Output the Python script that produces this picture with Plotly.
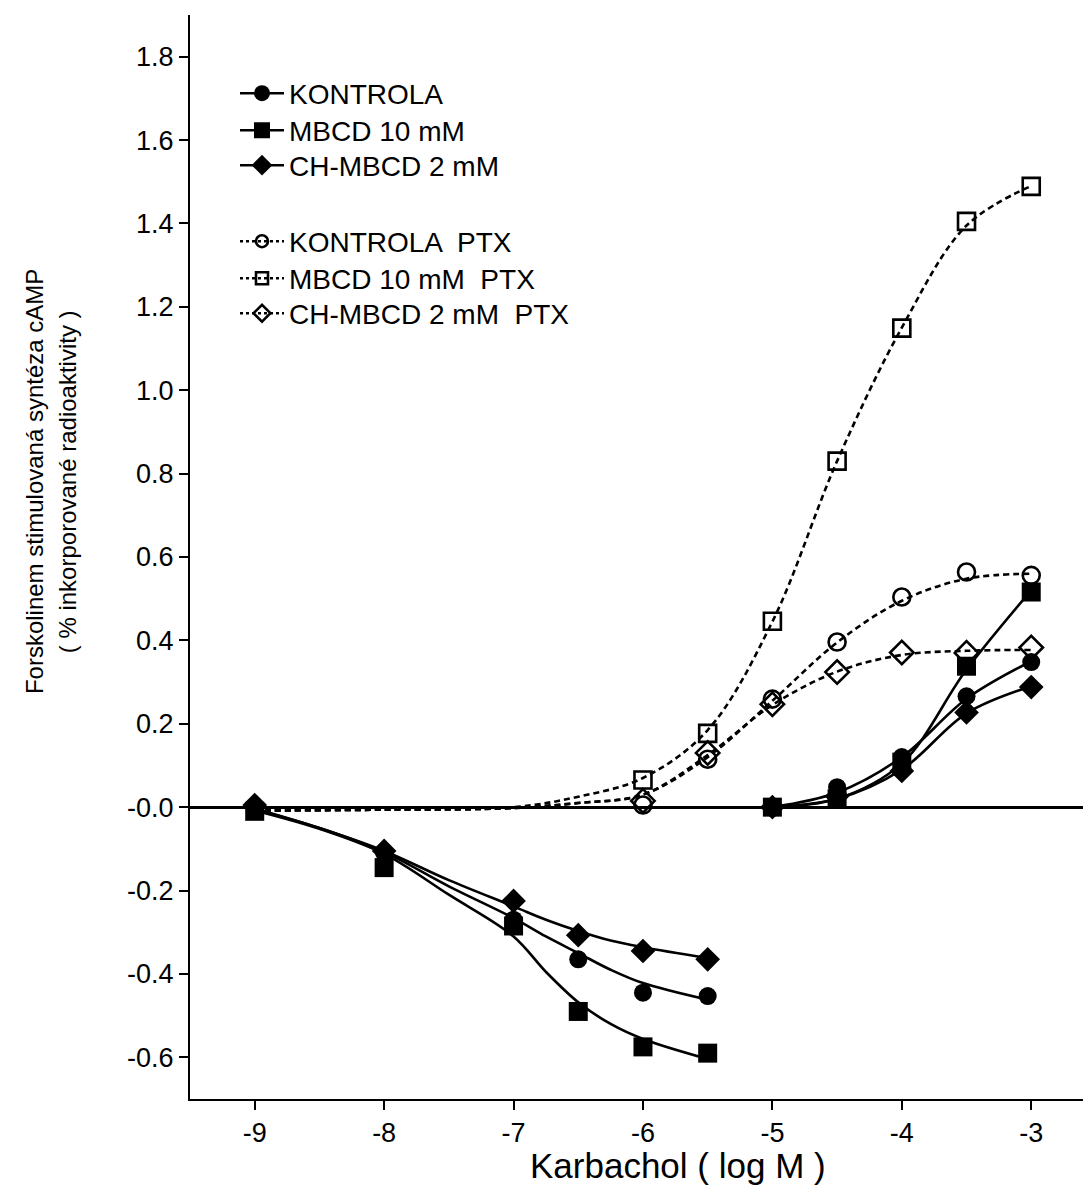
import plotly.graph_objects as go

# ---- data ----
# Karbachol concentration (log M)
x_neg = [-9, -8, -7, -6.5, -6, -5.5]
x_pos = [-5, -4.5, -4, -3.5, -3]
x_ptx = [-6, -5.5, -5, -4.5, -4, -3.5, -3]

# measured points (no PTX)
kontrola_neg = [-0.005, -0.11, -0.27, -0.365, -0.445, -0.453]
mbcd_neg = [-0.01, -0.145, -0.285, -0.49, -0.575, -0.59]
chmbcd_neg = [0.005, -0.105, -0.225, -0.307, -0.345, -0.365]

kontrola_pos = [0.0, 0.048, 0.12, 0.266, 0.348]
mbcd_pos = [0.0, 0.02, 0.108, 0.338, 0.516]
chmbcd_pos = [0.0, 0.026, 0.087, 0.227, 0.288]

# measured points (PTX)
kontrola_ptx = [0.005, 0.115, 0.259, 0.396, 0.504, 0.564, 0.556]
mbcd_ptx = [0.065, 0.177, 0.446, 0.83, 1.149, 1.405, 1.489]
chmbcd_ptx = [0.015, 0.13, 0.247, 0.324, 0.371, 0.37, 0.383]

# fitted curves
cx_neg = [-9, -8.5, -8, -7.5, -7, -6.75, -6.5, -6.25, -6, -5.5]
c_kontrola_neg = [-0.005, -0.05, -0.108, -0.19, -0.266, -0.31, -0.35, -0.39, -0.422, -0.462]
c_mbcd_neg = [-0.008, -0.052, -0.112, -0.21, -0.31, -0.395, -0.468, -0.52, -0.556, -0.604]
c_chmbcd_neg = [-0.003, -0.05, -0.105, -0.175, -0.238, -0.27, -0.297, -0.32, -0.336, -0.362]

cx_pos = [-5, -4.5, -4, -3.5, -3]
c_kontrola_pos = [0.0, 0.035, 0.12, 0.26, 0.35]
c_mbcd_pos = [0.0, 0.02, 0.105, 0.33, 0.52]
c_chmbcd_pos = [0.0, 0.02, 0.09, 0.225, 0.29]

cx_ptx = [-9, -8, -7, -6.5, -6, -5.5, -5, -4.5, -4, -3.5, -3]
c_kontrola_ptx = [-0.008, -0.006, -0.002, 0.01, 0.03, 0.12, 0.255, 0.395, 0.495, 0.548, 0.56]
c_mbcd_ptx = [-0.008, -0.006, 0.0, 0.025, 0.07, 0.185, 0.445, 0.83, 1.15, 1.395, 1.49]
c_chmbcd_ptx = [-0.008, -0.006, -0.002, 0.01, 0.03, 0.125, 0.245, 0.325, 0.365, 0.375, 0.377]

names = ["KONTROLA", "MBCD 10 mM", "CH-MBCD 2 mM",
         "KONTROLA  PTX", "MBCD 10 mM  PTX", "CH-MBCD 2 mM  PTX"]

y_tickvals = [-0.6, -0.4, -0.2, 0.0, 0.2, 0.4, 0.6, 0.8, 1.0, 1.2, 1.4, 1.6, 1.8]
y_ticktext = ["-0.6", "-0.4", "-0.2", "-0.0", "0.2", "0.4", "0.6", "0.8",
              "1.0", "1.2", "1.4", "1.6", "1.8"]
x_tickvals = [-9, -8, -7, -6, -5, -4, -3]
x_ticktext = ["-9", "-8", "-7", "-6", "-5", "-4", "-3"]

FONT = "Liberation Sans, Arial, sans-serif"
BLACK = "#000000"
SOLID_W = 2.6
DASH = "6px,4px"

fig = go.Figure()

solid_curves = [
    (cx_neg, c_kontrola_neg), (cx_neg, c_mbcd_neg), (cx_neg, c_chmbcd_neg),
    (cx_pos, c_kontrola_pos), (cx_pos, c_mbcd_pos), (cx_pos, c_chmbcd_pos),
]
for cx, cy in solid_curves:
    fig.add_trace(go.Scatter(x=cx, y=cy, mode="lines", showlegend=False,
                             hoverinfo="skip",
                             line=dict(color=BLACK, width=SOLID_W, shape="spline")))

for cy in [c_kontrola_ptx, c_mbcd_ptx, c_chmbcd_ptx]:
    fig.add_trace(go.Scatter(x=cx_ptx, y=cy, mode="lines", showlegend=False,
                             hoverinfo="skip",
                             line=dict(color=BLACK, width=2.6, dash=DASH, shape="spline")))

# markers
filled = [
    ("circle", 18, kontrola_neg, kontrola_pos),
    ("square", 19, mbcd_neg, mbcd_pos),
    ("diamond", 19, chmbcd_neg, chmbcd_pos),
]
for sym, size, yn, yp in filled:
    for xs, ys in [(x_neg, yn), (x_pos, yp)]:
        fig.add_trace(go.Scatter(x=xs, y=ys, mode="markers", showlegend=False,
                                 marker=dict(symbol=sym, size=size, color=BLACK,
                                             line=dict(width=0))))

opened = [
    ("circle-open", 17, kontrola_ptx),
    ("square-open", 17, mbcd_ptx),
    ("diamond-open", 18, chmbcd_ptx),
]
for sym, size, ys in opened:
    fig.add_trace(go.Scatter(x=x_ptx, y=ys, mode="markers", showlegend=False,
                             marker=dict(symbol=sym, size=size, color=BLACK,
                                         line=dict(width=2.6, color=BLACK))))

# legend entries (one small legend per entry, to match the spacing)
legend_items = [
    ("circle", 16, "solid", 0),
    ("square", 16, "solid", 0),
    ("diamond", 16, "solid", 0),
    ("circle-open", 12, "dot", 2.6),
    ("square-open", 12, "dot", 2.6),
    ("diamond-open", 13, "dot", 2.6),
]
legend_centers_px = [93.5, 130.5, 165.5, 241.5, 278.5, 313.5]
PLOT_LEFT, PLOT_RIGHT = 190, 1083
PLOT_TOP, PLOT_BOTTOM = 15, 1099
LEGEND_LEFT_PX = 235
layout_legends = {}
for i, (sym, size, dash, mlw) in enumerate(legend_items):
    key = "legend" if i == 0 else f"legend{i + 1}"
    fig.add_trace(go.Scatter(x=[None], y=[None], mode="lines+markers", name=names[i],
                             legend=key,
                             line=dict(color=BLACK, width=2.6, dash=dash),
                             marker=dict(symbol=sym, size=size, color=BLACK,
                                         line=dict(width=mlw, color=BLACK))))
    yc = (PLOT_BOTTOM - legend_centers_px[i]) / (PLOT_BOTTOM - PLOT_TOP)
    xl = (LEGEND_LEFT_PX - PLOT_LEFT) / (PLOT_RIGHT - PLOT_LEFT)
    layout_legends[key] = dict(x=xl, y=yc, xanchor="left", yanchor="middle",
                               bgcolor="rgba(0,0,0,0)", borderwidth=0,
                               itemwidth=44,
                               font=dict(family=FONT, size=28, color=BLACK))

axis_common = dict(showline=True, linecolor=BLACK, linewidth=2, ticks="outside",
                   ticklen=9, tickwidth=2, tickcolor=BLACK, showgrid=False,
                   tickfont=dict(family=FONT, size=27, color=BLACK), mirror=False)

fig.update_layout(
    width=1083, height=1185,
    margin=dict(l=190, r=0, t=15, b=86),
    paper_bgcolor="white", plot_bgcolor="white",
    font=dict(family=FONT, color=BLACK),
    xaxis=dict(range=[-9.5, -2.6], tickvals=x_tickvals, ticktext=x_ticktext,
               zeroline=False, **axis_common),
    yaxis=dict(range=[-0.7, 1.9], tickvals=y_tickvals, ticktext=y_ticktext,
               zeroline=True, zerolinecolor=BLACK, zerolinewidth=3, **axis_common),
    annotations=[
        dict(text="Karbachol ( log M )", xref="paper", yref="paper",
             x=0.5465, y=-0.0609, xanchor="center", yanchor="middle",
             showarrow=False, font=dict(family=FONT, size=35, color=BLACK)),
        dict(text="Forskolinem stimulovaná syntéza cAMP",
             xref="paper", yref="paper", x=-0.1747, y=0.570,
             xanchor="center", yanchor="middle", textangle=-90, showarrow=False,
             font=dict(family=FONT, size=24, color=BLACK)),
        dict(text="( % inkorporované radioaktivity )",
             xref="paper", yref="paper", x=-0.1377, y=0.569,
             xanchor="center", yanchor="middle", textangle=-90, showarrow=False,
             font=dict(family=FONT, size=24, color=BLACK)),
    ],
    **layout_legends,
)

fig.write_html("out.html")
